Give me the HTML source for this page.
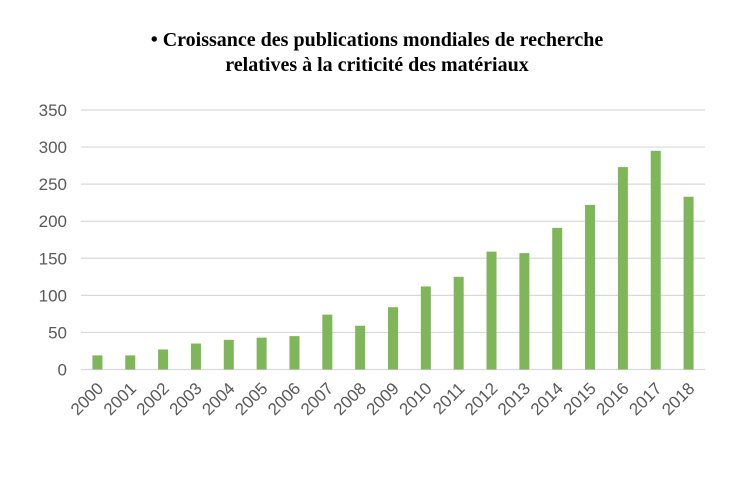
<!DOCTYPE html>
<html><head><meta charset="utf-8"><style>
body{margin:0;background:#fff;}
svg{display:block;font-family:"Liberation Sans",sans-serif;}
</style></head><body>
<svg id="c" width="754" height="478">
<text x="377" y="46" text-anchor="middle" font-family="Liberation Serif" font-weight="bold" font-size="20" fill="#000">• Croissance des publications mondiales de recherche</text>
<text x="377" y="71" text-anchor="middle" font-family="Liberation Serif" font-weight="bold" font-size="20" fill="#000">relatives à la criticité des matériaux</text>
<g id="grid"></g><g id="bars"></g><g id="labels"></g>
</svg>
<script>
const years=["2000","2001","2002","2003","2004","2005","2006","2007","2008","2009","2010","2011","2012","2013","2014","2015","2016","2017","2018"];
const values=[19,19,27,35,40,43,45,74,59,84,112,125,159,157,191,222,273,295,233];
const yTicks=[0,50,100,150,200,250,300,350];
const L=81,R=705,Y0=369.5,Ymax=110;
const ns="http://www.w3.org/2000/svg";
const y=v=>Y0-(Y0-Ymax)*v/350;
const bw=(R-L)/years.length;
const x=i=>L+bw*(i+0.5);
const g=document.getElementById('grid'),b=document.getElementById('bars'),lb=document.getElementById('labels');
function mk(t,a){const e=document.createElementNS(ns,t);for(const k in a)e.setAttribute(k,a[k]);return e;}
yTicks.forEach(t=>{
 const l=mk('line',{x1:L,x2:R,y1:y(t),y2:y(t),stroke:'#d9d9d9','stroke-width':1.2});
 
 
 g.appendChild(l);
 const tx=mk('text',{x:67,y:y(t)+6,'text-anchor':'end','font-size':17,fill:'#595959'});
 tx.textContent=t;
 
 
 g.appendChild(tx);
});
years.forEach((yr,i)=>{
 const r=mk('rect',{x:x(i)-5,y:y(values[i]),width:10,height:Y0-y(values[i]),fill:'#7fb65a'});
 
 
 b.appendChild(r);
 const tx=mk('text',{x:0,y:0,'text-anchor':'end','font-size':17,fill:'#595959',transform:`translate(${x(i)+7},${Y0+20}) rotate(-45)`});
 tx.textContent=yr;
 
 
 lb.appendChild(tx);
});
</script>
</body></html>
